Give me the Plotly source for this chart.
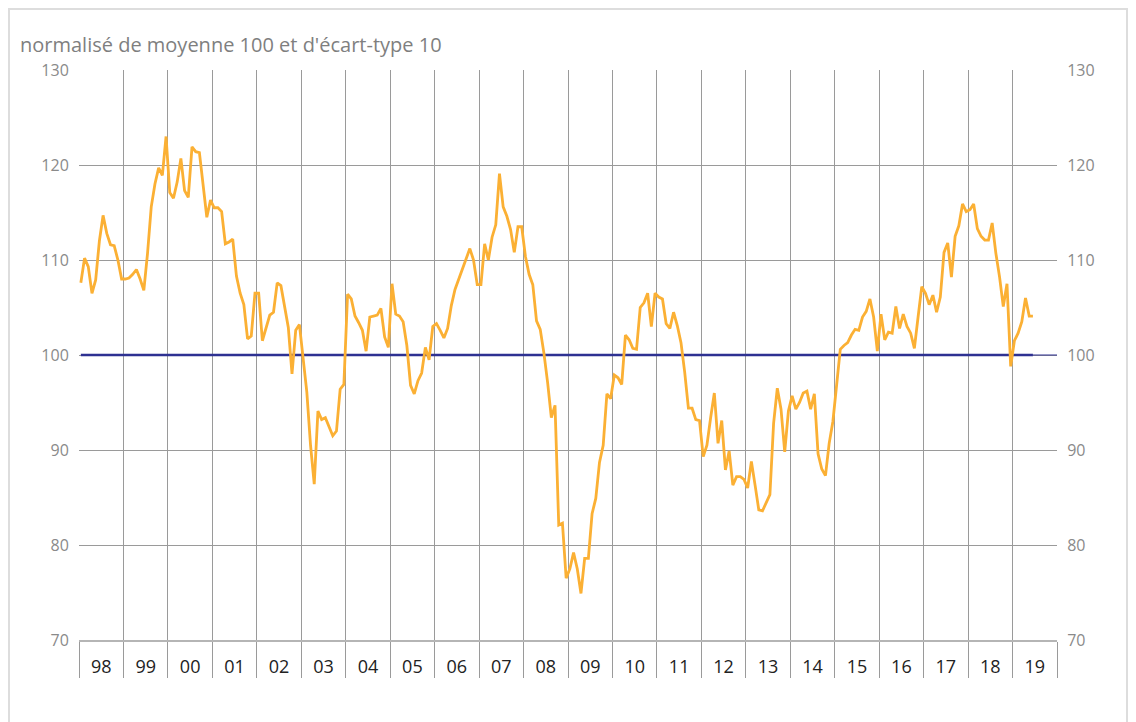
import plotly.graph_objects as go

# Monthly index values, Jan 1998 .. Jun 2019
values = [
    107.6, 110.2, 109.3, 106.5, 107.9, 112.0, 114.7, 112.8, 111.6, 111.5, 110.0, 108.0,  # 1998
    108.0, 108.1, 108.5, 109.0, 108.0, 106.8, 110.7, 115.6, 118.0, 119.7, 118.9, 123.0,  # 1999
    117.1, 116.5, 118.2, 120.7, 117.3, 116.6, 121.9, 121.4, 121.3, 118.2, 114.5, 116.3,  # 2000
    115.5, 115.5, 115.1, 111.7, 111.9, 112.2, 108.3, 106.5, 105.3, 101.7, 102.0, 106.5,  # 2001
    106.5, 101.5, 103.0, 104.2, 104.5, 107.6, 107.3, 105.2, 102.9, 98.0, 102.6, 103.2,   # 2002
    99.6, 96.1, 90.5, 86.4, 94.1, 93.2, 93.4, 92.4, 91.5, 92.0, 96.4, 96.9,              # 2003
    106.4, 105.9, 104.1, 103.4, 102.6, 100.4, 104.0, 104.1, 104.2, 104.9, 101.9, 100.8,  # 2004
    107.5, 104.3, 104.1, 103.5, 101.0, 96.8, 95.9, 97.3, 98.1, 100.8, 99.5, 103.0,       # 2005
    103.3, 102.6, 101.8, 102.8, 105.2, 106.9, 108.0, 109.1, 110.0, 111.2, 110.0, 107.4,  # 2006
    107.4, 111.7, 110.0, 112.4, 113.7, 119.1, 115.6, 114.6, 113.2, 110.8, 113.5, 113.5,  # 2007
    110.4, 108.5, 107.4, 103.6, 102.7, 100.2, 97.1, 93.4, 94.7, 82.1, 82.3, 76.5,        # 2008
    77.5, 79.2, 77.5, 74.9, 78.6, 78.6, 83.3, 84.9, 88.7, 90.5, 95.9, 95.4,              # 2009
    97.9, 97.6, 96.9, 102.1, 101.6, 100.7, 100.6, 105.0, 105.5, 106.5, 103.0, 106.5,     # 2010
    106.1, 105.9, 103.3, 102.8, 104.5, 103.1, 101.3, 98.2, 94.4, 94.4, 93.2, 93.1,       # 2011
    89.3, 90.5, 93.4, 96.0, 90.7, 93.1, 87.9, 89.9, 86.3, 87.2, 87.2, 86.9,              # 2012
    86.0, 88.8, 86.3, 83.7, 83.6, 84.5, 85.3, 92.8, 96.5, 94.3, 89.8, 94.1,              # 2013
    95.7, 94.3, 95.0, 96.0, 96.2, 94.3, 95.9, 89.6, 88.0, 87.3, 90.7, 93.0,              # 2014
    96.7, 100.6, 101.0, 101.3, 102.1, 102.7, 102.6, 104.0, 104.6, 105.9, 104.0, 100.4,   # 2015
    104.3, 101.6, 102.4, 102.3, 105.1, 102.8, 104.3, 103.0, 102.3, 100.7, 104.0, 107.2,  # 2016
    106.5, 105.3, 106.3, 104.5, 106.1, 110.8, 111.8, 108.2, 112.5, 113.6, 115.9, 115.1,  # 2017
    115.3, 115.9, 113.3, 112.5, 112.1, 112.1, 113.9, 110.7, 108.2, 105.1, 107.5, 98.8,   # 2018
    101.5, 102.3, 103.5, 106.0, 104.1, 104.1,                                            # 2019
]
start_year = 1998
year_labels = ["98", "99", "00", "01", "02", "03", "04", "05", "06", "07", "08",
               "09", "10", "11", "12", "13", "14", "15", "16", "17", "18", "19"]
y_ticks = [70, 80, 90, 100, 110, 120, 130]
reference_level = 100
title_text = "normalisé de moyenne 100 et d'écart-type 10"

xs = [start_year + (i + 0.5) / 12 for i in range(len(values))]
end_year = start_year + len(year_labels)

fig = go.Figure()
fig.add_trace(go.Scatter(x=xs, y=[reference_level] * len(xs), mode="lines",
                         line=dict(color="#2E3192", width=2.4), hoverinfo="skip",
                         showlegend=False))
fig.add_trace(go.Scatter(x=xs, y=values, mode="lines",
                         line=dict(color="#FBB034", width=2.8), showlegend=False))
fig.add_trace(go.Scatter(x=[start_year, end_year], y=[y_ticks[0], y_ticks[-1]], yaxis="y2",
                         mode="lines", line=dict(width=0), opacity=0, hoverinfo="skip",
                         showlegend=False))

fig.add_shape(type="line", xref="x", yref="y", x0=xs[-1], x1=end_year,
              y0=reference_level, y1=reference_level, line=dict(color="#2E3192", width=1))

# outer frame (open at the bottom, beyond the visible area)
fig.add_shape(type="rect", xref="paper", yref="paper", x0=-0.0716, x1=1.0716,
              y0=-0.25, y1=1.107, line=dict(color="#dddddd", width=2), layer="below")

fig.add_annotation(text=title_text, xref="paper", yref="paper", x=-0.0624, y=1.0456,
                   xanchor="left", yanchor="middle", showarrow=False,
                   font=dict(family="Open Sans", size=20, color="#7f7f7f"))

fig.update_layout(
    width=1128, height=714,
    margin=dict(l=71, r=79, t=62, b=82),
    paper_bgcolor="white", plot_bgcolor="white",
    font=dict(family="Open Sans"),
    xaxis=dict(
        range=[start_year, end_year],
        tickvals=[start_year + k + 0.5 for k in range(len(year_labels))],
        ticktext=year_labels,
        ticks="outside", ticklen=10, tickcolor="rgba(0,0,0,0)",
        showgrid=False, zeroline=False,
        showline=True, linecolor="#b5b5b5", linewidth=1.5,
        tickfont=dict(family="Open Sans", size=18, color="#222222"),
        minor=dict(tickvals=list(range(start_year, end_year + 1)), showgrid=True,
                   gridcolor="#9a9a9a", gridwidth=1, ticks="outside", ticklen=36,
                   tickcolor="#9a9a9a", tickwidth=1),
    ),
    yaxis=dict(
        range=[y_ticks[0], y_ticks[-1]], tickvals=y_ticks,
        showgrid=True, gridcolor="#9a9a9a", gridwidth=1, zeroline=False,
        showline=False,
        ticks="outside", ticklen=6, tickcolor="rgba(0,0,0,0)",
        tickfont=dict(family="Open Sans", size=16, color="#8a8a8a"),
    ),
    yaxis2=dict(
        range=[y_ticks[0], y_ticks[-1]], tickvals=y_ticks, overlaying="y", side="right",
        showgrid=False, zeroline=False, showline=False,
        ticks="outside", ticklen=6, tickcolor="rgba(0,0,0,0)",
        tickfont=dict(family="Open Sans", size=16, color="#8a8a8a"),
    ),
)

fig.write_html("out.html")
